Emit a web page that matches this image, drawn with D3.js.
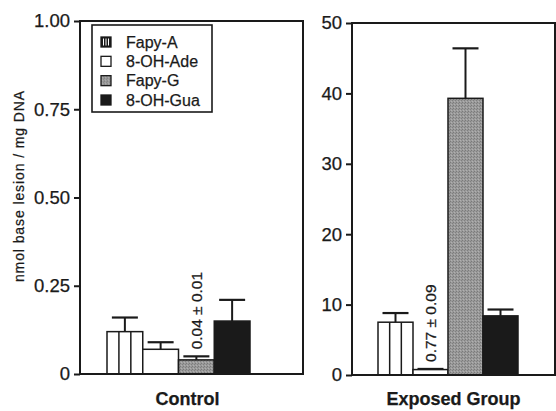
<!DOCTYPE html>
<html>
<head>
<meta charset="utf-8">
<script src="https://cdn.jsdelivr.net/npm/d3@7"></script>
<style>
  body { margin: 0; background: #fff; }
  text { font-family: "Liberation Sans", Arial, Helvetica, sans-serif; fill: #1a1a1a; stroke: #1a1a1a; stroke-width: 0.25px; }
</style>
</head>
<body>
<div id="visual"></div>
<script>
// data
let series = ["Fapy-A", "8-OH-Ade", "Fapy-G", "8-OH-Gua"]
let groups = ["Control", "Exposed Group"]
let controlMean = [0.12, 0.07, 0.04, 0.15]
let controlErr = [0.04, 0.02, 0.01, 0.06]
let exposedMean = [7.5, 0.77, 39.3, 8.4]
let exposedErr = [1.3, 0.09, 7.1, 0.9]
let controlTicks = [0, 0.25, 0.5, 0.75, 1]
let controlTickLabels = ["0", "0.25", "0.50", "0.75", "1.00"]
let exposedTicks = [0, 10, 20, 30, 40, 50]
let exposedTickLabels = ["0", "10", "20", "30", "40", "50"]
let labelledBar = ["Fapy-G", "8-OH-Ade"]

let width = 556, height = 411
let ink = "#1a1a1a"

let svg = d3.select("#visual")
    .append("svg")
    .attr("width", width)
    .attr("height", height)

// fills
let defs = svg.append("defs")
let grain = defs.append("pattern")
    .attr("id", "grain")
    .attr("width", 3).attr("height", 3)
    .attr("patternUnits", "userSpaceOnUse")
grain.append("rect").attr("width", 3).attr("height", 3).attr("fill", "#9a9a9a")
grain.append("rect").attr("x", 0).attr("y", 0).attr("width", 1).attr("height", 1).attr("fill", "#7a7a7a")
grain.append("rect").attr("x", 2).attr("y", 1).attr("width", 1).attr("height", 1).attr("fill", "#808080")
grain.append("rect").attr("x", 1).attr("y", 2).attr("width", 1).attr("height", 1).attr("fill", "#b0b0b0")

let fills = { "Fapy-A": "#fff", "8-OH-Ade": "#fff", "Fapy-G": "url(#grain)", "8-OH-Gua": ink }

let panels = [
    { name: groups[0], mean: controlMean, err: controlErr, ticks: controlTicks, labels: controlTickLabels,
      max: 1, left: 80, right: 303, top: 21, bottom: 374, barsFrom: 107, barsTo: 250 },
    { name: groups[1], mean: exposedMean, err: exposedErr, ticks: exposedTicks, labels: exposedTickLabels,
      max: 50, left: 352, right: 555, top: 23, bottom: 375, barsFrom: 378, barsTo: 518 }
]

panels.forEach((p, pi) => {
    let y = d3.scaleLinear().domain([0, p.max]).range([p.bottom, p.top])
    let x = d3.scaleBand().domain(series).range([p.barsFrom, p.barsTo]).paddingInner(0)
    let bw = x.bandwidth()
    let data = series.map((s, i) => ({ s: s, m: p.mean[i], e: p.err[i] }))
    let g = svg.append("g")

    // error bars first, bars on top
    g.selectAll("stem")
        .data(data)
        .enter()
        .append("line")
        .attr("x1", d => x(d.s) + bw / 2)
        .attr("x2", d => x(d.s) + bw / 2)
        .attr("y1", d => y(d.m))
        .attr("y2", d => y(d.m + d.e))
        .attr("stroke", ink)
        .attr("stroke-width", 2)

    g.selectAll("cap")
        .data(data)
        .enter()
        .append("line")
        .attr("x1", d => x(d.s) + bw / 2 - 13)
        .attr("x2", d => x(d.s) + bw / 2 + 13)
        .attr("y1", d => y(d.m + d.e))
        .attr("y2", d => y(d.m + d.e))
        .attr("stroke", ink)
        .attr("stroke-width", 2.2)

    g.selectAll("bar")
        .data(data)
        .enter()
        .append("rect")
        .attr("x", d => x(d.s))
        .attr("y", d => y(d.m))
        .attr("width", bw)
        .attr("height", d => y(0) - y(d.m))
        .attr("fill", d => fills[d.s])
        .attr("stroke", ink)
        .attr("stroke-width", 1.5)

    // vertical stripes of Fapy-A
    let fa = data[0]
    g.selectAll("stripe")
        .data([1, 2])
        .enter()
        .append("line")
        .attr("x1", k => x(fa.s) + bw * k / 3)
        .attr("x2", k => x(fa.s) + bw * k / 3)
        .attr("y1", y(fa.m))
        .attr("y2", y(0))
        .attr("stroke", ink)
        .attr("stroke-width", 1.5)

    // value written above the smallest bar
    let lb = data.find(d => d.s === labelledBar[pi])
    let lx = x(lb.s) + bw / 2, ly = y(lb.m + lb.e) - 7
    g.append("text")
        .attr("transform", "translate(" + lx + "," + ly + ") rotate(-90)")
        .attr("dominant-baseline", "central")
        .attr("font-size", 15.5)
        .text(d3.format(".2f")(lb.m) + " \u00b1 " + d3.format(".2f")(lb.e))

    // frame
    g.append("rect")
        .attr("x", p.left)
        .attr("y", p.top)
        .attr("width", p.right - p.left)
        .attr("height", p.bottom - p.top)
        .attr("fill", "none")
        .attr("stroke", ink)
        .attr("stroke-width", 2)

    let axis = g.append("g")
        .attr("transform", "translate(" + p.left + ",0)")
        .call(d3.axisLeft(y).tickValues(p.ticks).tickSize(6).tickPadding(4)
            .tickFormat((d, i) => p.labels[i]))
    axis.select(".domain").remove()
    axis.selectAll("line").attr("stroke", ink).attr("stroke-width", 2)
    axis.selectAll("text").attr("font-size", 18.5).attr("font-family", null).attr("fill", ink)

    g.append("text")
        .attr("x", (p.left + p.right) / 2 + (pi === 0 ? -4 : 0))
        .attr("y", 405)
        .attr("text-anchor", "middle")
        .attr("font-size", 18)
        .attr("font-weight", "bold")
        .text(p.name)
})

// y title
svg.append("text")
    .attr("transform", "translate(19,186) rotate(-90)")
    .attr("text-anchor", "middle")
    .attr("dominant-baseline", "central")
    .attr("font-size", 14)
    .attr("letter-spacing", 0.9)
    .text("nmol base lesion / mg DNA")

// legend
let legend = svg.append("g")
legend.append("rect")
    .attr("x", 92).attr("y", 25)
    .attr("width", 120).attr("height", 87)
    .attr("fill", "#fff")
    .attr("stroke", ink)
    .attr("stroke-width", 1.6)

let ly = d3.scalePoint().domain(series).range([42, 100])
let items = legend.selectAll("item")
    .data(series)
    .enter()
    .append("g")
    .attr("transform", d => "translate(101," + ly(d) + ")")

items.append("rect")
    .attr("x", 0).attr("y", -5)
    .attr("width", 10).attr("height", 10)
    .attr("fill", d => d === "Fapy-A" ? ink : fills[d])
    .attr("stroke", ink)
    .attr("stroke-width", 1.3)

items.filter(d => d === "Fapy-A")
    .selectAll("gap")
    .data([2.5, 5, 7.5])
    .enter()
    .append("line")
    .attr("x1", k => k).attr("x2", k => k)
    .attr("y1", -3.5).attr("y2", 3.5)
    .attr("stroke", "#fff")
    .attr("stroke-width", 1)

items.append("text")
    .attr("x", 25)
    .attr("y", 0)
    .attr("dominant-baseline", "central")
    .attr("font-size", 16)
    .text(d => d)
</script>
</body>
</html>
